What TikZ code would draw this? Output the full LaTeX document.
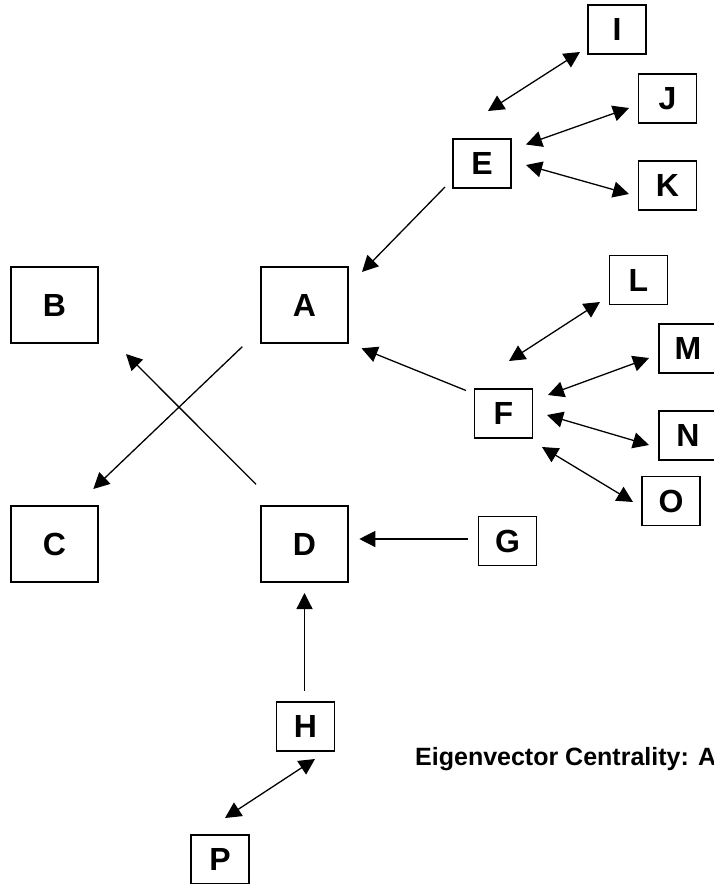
\documentclass[tikz,border=0pt]{standalone}
\usepackage{fontspec}
\setmainfont{Liberation Sans}
\usetikzlibrary{arrows.meta}
\begin{document}
\begin{tikzpicture}[x=1pt,y=-1pt,
  box/.style={draw=black,line width=1.2pt,fill=white,inner sep=0pt,
    font=\fontsize{32}{38}\selectfont\bfseries},
  bigbox/.style={box,minimum width=87pt,minimum height=76pt},
  smallbox/.style={box,minimum width=58pt,minimum height=49pt},
  link/.style={line width=1.3pt,-{Triangle[length=16pt,width=16pt]}},
  blink/.style={line width=1.3pt,{Triangle[length=16pt,width=16pt]}-{Triangle[length=16pt,width=16pt]}},
  caption/.style={font=\fontsize{25}{30}\selectfont\bfseries,inner sep=0pt,anchor=base west}]
\useasboundingbox (0,0) rectangle (714,884);
\clip (0,0) rectangle (714,884);
% nodes
\node[smallbox] (I) at (617,29.5) {I};
\node[smallbox] (J) at (667.5,98.5) {J};
\node[smallbox] (E) at (482,163.5) {E};
\node[smallbox] (K) at (667.5,185.5) {K};
\node[bigbox] (B) at (54.5,305) {B};
\node[bigbox] (A) at (304.5,305) {A};
\node[smallbox] (L) at (638.5,280) {L};
\node[smallbox] (M) at (688,348.5) {M};
\node[smallbox] (F) at (503.5,413.5) {F};
\node[smallbox] (N) at (688,435.5) {N};
\node[smallbox] (O) at (671,501) {O};
\node[smallbox] (G) at (507.5,541) {G};
\node[bigbox] (C) at (54.5,544) {C};
\node[bigbox] (D) at (304.5,544) {D};
\node[smallbox] (H) at (305.5,726.5) {H};
\node[smallbox] (P) at (220,859.5) {P};
\node[caption] (T) at (415,765) {Eigenvector Centrality: A};
% connector end points
\coordinate (eI) at (488,111);   \coordinate (iE) at (580,52);
\coordinate (eJ) at (526,144.5); \coordinate (jE) at (629,108);
\coordinate (eK) at (526,165);   \coordinate (kE) at (629,194);
\coordinate (eA) at (445,187);   \coordinate (aE) at (362,272);
\coordinate (fA) at (466,390.5); \coordinate (aF) at (361.5,348.3);
\coordinate (aC) at (242.3,346.7); \coordinate (cA) at (93.3,489);
\coordinate (dB) at (256,484.3); \coordinate (bD) at (126,354);
\coordinate (gD) at (468.3,539); \coordinate (dG) at (359.3,539);
\coordinate (hD) at (304.5,691); \coordinate (dH) at (304.5,593);
\coordinate (hP) at (315,759);   \coordinate (pH) at (225,818);
\coordinate (fL) at (509,361);   \coordinate (lF) at (600,302);
\coordinate (fM) at (548,395);   \coordinate (mF) at (649,358);
\coordinate (fN) at (547,415);   \coordinate (nF) at (649,445);
\coordinate (fO) at (542,447);   \coordinate (oF) at (633,502);
% connectors
\draw[blink] (eI) -- (iE);
\draw[blink] (eJ) -- (jE);
\draw[blink] (eK) -- (kE);
\draw[link] (eA) -- (aE);
\draw[link] (fA) -- (aF);
\draw[link] (aC) -- (cA);
\draw[link] (dB) -- (bD);
\draw[link] (gD) -- (dG);
\draw[link] (hD) -- (dH);
\draw[blink] (hP) -- (pH);
\draw[blink] (fL) -- (lF);
\draw[blink] (fM) -- (mF);
\draw[blink] (fN) -- (nF);
\draw[blink] (fO) -- (oF);
\end{tikzpicture}
\end{document}
